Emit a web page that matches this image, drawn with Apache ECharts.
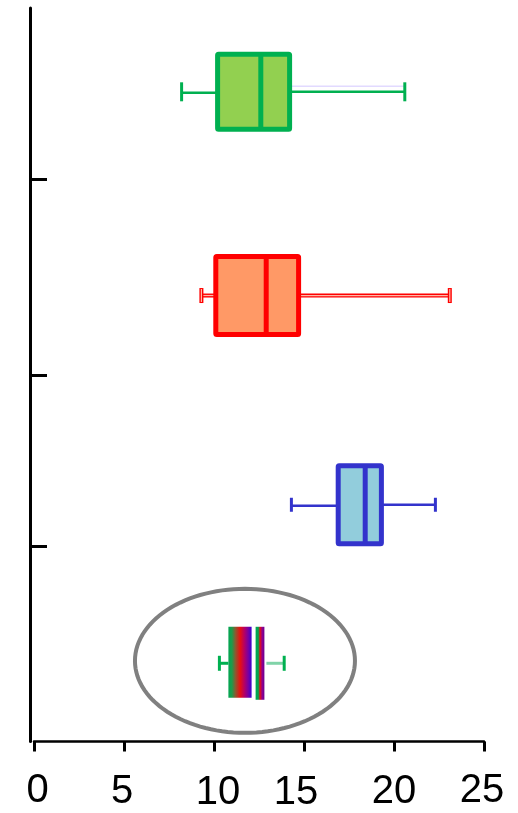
<!DOCTYPE html>
<html><head><meta charset="utf-8">
<script src="https://cdn.jsdelivr.net/npm/echarts@6/dist/echarts.min.js"></script>
<style>html,body{margin:0;padding:0;background:#fff}#c{width:518px;height:813px}</style>
</head><body><div id="c"></div>
<script>
// ---- data ----
const categories = ['Group 1', 'Group 2', 'Group 3', 'Group 4'];
const minValues    = [8.2, 9.3, 14.3, 10.3];
const q1Values     = [10.2, 10.1, 16.9, 10.8];
const medianValues = [12.6, 12.9, 18.4, 12.2];
const q3Values     = [14.2, 14.7, 19.3, 12.8];
const maxValues    = [20.6, 23.1, 22.3, 13.9];
const xTickLabels  = ['0', '5', '10', '15', '20', '25'];
const highlight    = [11.72, 3.56]; // centre of the grey ellipse annotation (x value, row position)

// ---- layout / style ----
const rowPos  = [0.457, 1.568, 2.709, 3.568];   // row centres along the y value axis
const rowTicks = [0.935, 2.0, 2.935];
const rowStyle = [
  {box: 75, cap: 19, fill: '#92D050', stroke: '#00B050', whisker: '#00B050', ghost: '#E2DAFF'},
  {box: 78, cap: 15, fill: '#FF9966', stroke: '#FF0000', whisker: '#FF0000', inner: '#FFB8A8'},
  {box: 78, cap: 14, fill: '#92CDDC', stroke: '#3333CC', whisker: '#3333CC'},
  {box: 71, cap: 15, gradient: true, whisker: '#00B050', whisker2: '#80D3A8'}
];
const labelPad = [[0,0,0,7],[2,4,0,0],[5,0,0,8],[5,16,0,0],[3,0,0,0],[0,4,0,0]];

const boxData = categories.map((c, i) => [i, minValues[i], q1Values[i], medianValues[i], q3Values[i], maxValues[i]]);

function hLine(x1, x2, y, color, w) {
  return {type: 'line', shape: {x1, y1: y, x2, y2: y}, style: {stroke: color, lineWidth: w}};
}
function vLine(x, y1, y2, color, w) {
  return {type: 'line', shape: {x1: x, y1, x2: x, y2}, style: {stroke: color, lineWidth: w}};
}

function renderBox(params, api) {
  const i = api.value(0);
  const s = rowStyle[i];
  const yv = rowPos[i];
  const px = v => api.coord([v, yv])[0];
  const y = api.coord([0, yv])[1];
  const xMin = px(api.value(1)), xQ1 = px(api.value(2)), xMed = px(api.value(3)),
        xQ3 = px(api.value(4)), xMax = px(api.value(5));
  const h = s.box, ch = s.cap;
  const ch2 = ch / 2;
  const children = [];
  if (!s.gradient) {
    if (s.inner) {
      children.push(hLine(xMin, xQ1, y, s.whisker, 4), hLine(xQ3, xMax, y, s.whisker, 4));
      children.push(hLine(xMin, xQ1, y, s.inner, 1.2), hLine(xQ3, xMax, y, s.inner, 1.2));
      children.push(vLine(xMin, y - ch2, y + ch2, s.whisker, 4), vLine(xMax, y - ch2, y + ch2, s.whisker, 4));
      children.push(vLine(xMin, y - ch2 + 1, y + ch2 - 1, s.inner, 1.2), vLine(xMax, y - ch2 + 1, y + ch2 - 1, s.inner, 1.2));
    } else {
      if (s.ghost) children.push(hLine(xQ3, xMax, y - 5.5, s.ghost, 1.5));
      children.push(hLine(xMin, xQ1, y + 1, s.whisker, 2.5), hLine(xQ3, xMax, y, s.whisker, 2.5));
      children.push(vLine(xMin, y - ch2, y + ch2, s.whisker, 3), vLine(xMax, y - ch2, y + ch2, s.whisker, 3));
    }
    children.push({type: 'rect', shape: {x: xQ1, y: y - h / 2, width: xQ3 - xQ1, height: h, r: 1},
      style: {fill: s.fill, stroke: s.stroke, lineWidth: 5, lineJoin: 'round'}});
    children.push(vLine(xMed, y - h / 2, y + h / 2, s.stroke, 5));
  } else {
    children.push(hLine(xMin, xQ1, y + 1, s.whisker, 3), vLine(xMin, y - ch2 + 1, y + ch2 + 1, s.whisker, 3));
    children.push(hLine(xQ3 + 2, xMax, y + 1, s.whisker2, 3), vLine(xMax, y - ch2 + 1, y + ch2 + 1, s.whisker, 3));
    children.push({type: 'rect', shape: {x: xQ1, y: y - h / 2, width: xMed - 2 - xQ1, height: h},
      style: {fill: {type: 'linear', x: 0, y: 0, x2: 1, y2: 0, colorStops: [
        {offset: 0, color: '#00A651'}, {offset: 0.15, color: '#1E9A4A'}, {offset: 0.3, color: '#8A5A30'},
        {offset: 0.5, color: '#E81010'}, {offset: 0.7, color: '#B0006A'}, {offset: 0.85, color: '#7A00A0'},
        {offset: 1, color: '#3A00D0'}]}}});
    children.push({type: 'rect', shape: {x: xMed + 2, y: y - h / 2, width: xQ3 - xMed - 2, height: h + 2},
      style: {fill: {type: 'linear', x: 0, y: 0, x2: 1, y2: 0, colorStops: [
        {offset: 0, color: '#00A651'}, {offset: 0.3, color: '#00A651'}, {offset: 0.5, color: '#E81010'},
        {offset: 0.75, color: '#900090'}, {offset: 1, color: '#6A0090'}]}}});
  }
  return {type: 'group', children};
}

function renderEllipse(params, api) {
  const c = api.coord([api.value(0), api.value(1)]);
  const rx = 110, ry = 72;
  const pts = [];
  for (let k = 0; k < 120; k++) {
    const t = k / 120 * Math.PI * 2;
    pts.push([c[0] + rx * Math.cos(t), c[1] + ry * Math.sin(t)]);
  }
  return {type: 'polygon', shape: {points: pts}, style: {fill: 'none', stroke: '#808080', lineWidth: 4}};
}

const chart = echarts.init(document.getElementById('c'), null, {renderer: 'canvas'});
chart.setOption({
  animation: false,
  backgroundColor: '#fff',
  grid: {left: 34, right: 34, top: 8, bottom: 69},
  xAxis: {
    type: 'value', min: 0, max: 25, interval: 5, position: 'bottom',
    axisLine: {show: true, onZero: false, lineStyle: {color: '#000', width: 2.5}},
    axisTick: {show: true, length: 10, lineStyle: {color: '#000', width: 3}},
    splitLine: {show: false},
    axisLabel: {
      margin: 29, interval: 0, showMinLabel: true, showMaxLabel: true, hideOverlap: false,
      formatter: (v, idx) => `{a${idx}|${xTickLabels[idx]}}`,
      rich: Object.fromEntries(labelPad.map((p, k) => ['a' + k,
        {fontFamily: 'Liberation Sans', fontSize: 40, lineHeight: 40, color: '#000', padding: p}]))
    }
  },
  yAxis: {
    type: 'value', min: 0, max: 4, inverse: true, offset: 4,
    axisLine: {show: true, onZero: false, lineStyle: {color: '#000', width: 3}},
    axisTick: {show: true, inside: true, length: 17, customValues: rowTicks, lineStyle: {color: '#000', width: 3}},
    axisLabel: {show: false},
    splitLine: {show: false}
  },
  series: [
    {type: 'custom', name: 'box', renderItem: renderBox, data: boxData, clip: false,
     encode: {x: [1, 2, 3, 4, 5], y: 0}},
    {type: 'custom', name: 'highlight', renderItem: renderEllipse, data: [highlight], clip: false,
     encode: {x: 0, y: 1}}
  ]
});
</script></body></html>
